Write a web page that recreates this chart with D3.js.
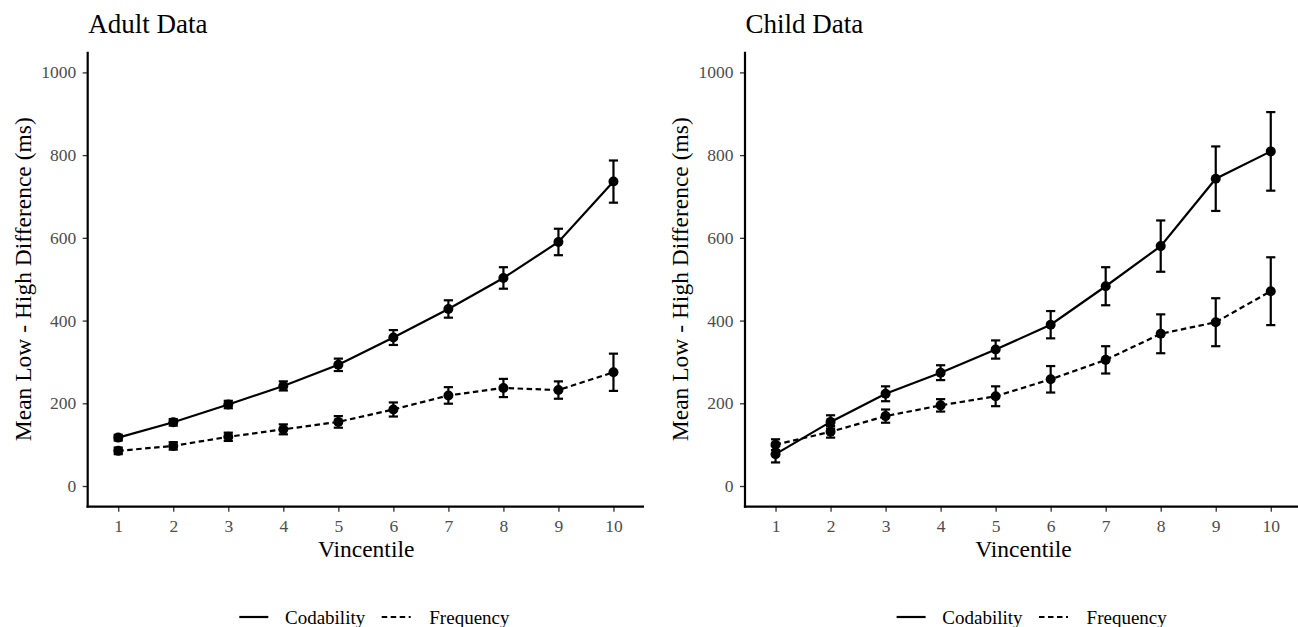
<!DOCTYPE html>
<html>
<head>
<meta charset="utf-8">
<script src="https://cdn.jsdelivr.net/npm/d3@7"></script>
<style>
  html, body { margin: 0; padding: 0; background: #fff; }
  svg { display: block; }
  text { font-family: "Liberation Serif", "Times New Roman", serif; }
</style>
</head>
<body>
<svg id="chart" width="1298" height="627"></svg>
<script>
// ---- data ----
const vincentiles = [1, 2, 3, 4, 5, 6, 7, 8, 9, 10];
const yTicks = [0, 200, 400, 600, 800, 1000];
const seriesNames = ["Codability", "Frequency"];
const panelTitles = ["Adult Data", "Child Data"];

const adultCodability    = [117, 154, 197, 242, 293, 359, 428, 503, 590, 736];
const adultCodabilityErr = [7, 8, 9, 11, 15, 18, 21, 26, 32, 51];
const adultFrequency     = [85, 97, 119, 137, 155, 185, 219, 237, 232, 275];
const adultFrequencyErr  = [8, 9, 10, 12, 14, 17, 20, 22, 21, 45];

const childCodability    = [77, 155, 223, 274, 330, 390, 483, 580, 743, 809];
const childCodabilityErr = [20, 16, 18, 18, 22, 33, 46, 62, 78, 95];
const childFrequency     = [100, 131, 169, 195, 217, 258, 305, 368, 396, 471];
const childFrequencyErr  = [13, 14, 16, 15, 24, 32, 33, 47, 58, 82];

// ---- build ----
function makeSeries(vals, errs) {
  return vincentiles.map((v, i) => ({ x: v, y: vals[i], e: errs[i] }));
}
const panels = [
  { title: panelTitles[0], x0: 87.7, series: [makeSeries(adultCodability, adultCodabilityErr), makeSeries(adultFrequency, adultFrequencyErr)] },
  { title: panelTitles[1], x0: 745,  series: [makeSeries(childCodability, childCodabilityErr), makeSeries(childFrequency, childFrequencyErr)] }
];

const svg = d3.select("#chart");
const plotTop = 51.7, plotBottom = 506.7, panelW = 556.3;
const dashes = [null, "5.5,3.5"];
const serif = '"Liberation Serif", "Times New Roman", serif';

panels.forEach(p => {
  const x = d3.scaleLinear().domain([0.445, 10.555]).range([p.x0, p.x0 + panelW]);
  const y = d3.scaleLinear().domain([-50, 1050]).range([plotBottom, plotTop]);
  const g = svg.append("g");

  // title
  g.append("text").attr("x", p.x0 + 0.6).attr("y", 33.3)
    .attr("font-size", 27).attr("fill", "#000").text(p.title);

  // axes
  const yAxis = g.append("g").attr("transform", `translate(${p.x0},0)`)
    .call(d3.axisLeft(y).tickValues(yTicks).tickFormat(d3.format("d"))
      .tickSize(5).tickPadding(6.5).tickSizeOuter(0));
  const xAxis = g.append("g").attr("transform", `translate(0,${plotBottom})`)
    .call(d3.axisBottom(x).tickValues(vincentiles).tickFormat(d3.format("d"))
      .tickSize(5).tickPadding(7.5).tickSizeOuter(0));
  [yAxis, xAxis].forEach(a => {
    a.attr("font-family", serif).attr("font-size", 17.5);
    a.select(".domain").remove();
    a.selectAll(".tick line").attr("stroke", "#333").attr("stroke-width", 1.3);
    a.selectAll(".tick text").attr("fill", "#4d4d4d")
      .style("font-size", "17.5px").style("font-family", serif);
  });
  g.append("line").attr("x1", p.x0).attr("x2", p.x0).attr("y1", plotTop).attr("y2", plotBottom + 1)
    .attr("stroke", "#000").attr("stroke-width", 2.2);
  g.append("line").attr("x1", p.x0 - 1.1).attr("x2", Math.min(p.x0 + panelW, 1298)).attr("y1", plotBottom).attr("y2", plotBottom)
    .attr("stroke", "#000").attr("stroke-width", 2.2);

  // axis titles
  g.append("text").attr("x", p.x0 + panelW / 2 + 0.3).attr("y", 556.7)
    .attr("text-anchor", "middle").attr("font-size", 23.5).attr("fill", "#000").text("Vincentile");
  g.append("text")
    .attr("transform", `translate(${p.x0 - 57},${(plotTop + plotBottom) / 2}) rotate(-90)`)
    .attr("text-anchor", "middle").attr("font-size", 23.5).attr("fill", "#000")
    .text("Mean Low - High Difference (ms)");

  // lines
  const line = d3.line().x(d => x(d.x)).y(d => y(d.y));
  p.series.forEach((s, si) => {
    g.append("path").datum(s).attr("d", line).attr("fill", "none")
      .attr("stroke", "#000").attr("stroke-width", 2.2)
      .attr("stroke-dasharray", dashes[si]);
  });
  // error bars
  p.series.forEach(s => {
    const eb = g.append("g").attr("stroke", "#000").attr("stroke-width", 2.2).attr("fill", "none");
    s.forEach(d => {
      const cx = x(d.x), y1 = y(d.y + d.e), y2 = y(d.y - d.e);
      eb.append("line").attr("x1", cx).attr("x2", cx).attr("y1", y1).attr("y2", y2);
      eb.append("line").attr("x1", cx - 4.6).attr("x2", cx + 4.6).attr("y1", y1).attr("y2", y1);
      eb.append("line").attr("x1", cx - 4.6).attr("x2", cx + 4.6).attr("y1", y2).attr("y2", y2);
    });
  });
  // points
  p.series.forEach(s => {
    g.append("g").selectAll("circle").data(s).join("circle")
      .attr("cx", d => x(d.x)).attr("cy", d => y(d.y)).attr("r", 5).attr("fill", "#000");
  });

  // legend
  const lg = g.append("g").attr("transform", `translate(${p.x0 + 151.6},617)`);
  const keyX = [0, 142.4];
  const textX = [45.7, 190];
  seriesNames.forEach((name, i) => {
    lg.append("line").attr("x1", keyX[i]).attr("x2", keyX[i] + 29).attr("y1", 0).attr("y2", 0)
      .attr("stroke", "#000").attr("stroke-width", 2.2).attr("stroke-dasharray", dashes[i]);
    lg.append("text").attr("x", textX[i]).attr("y", 6.5).attr("font-size", 19)
      .attr("fill", "#000").text(name);
  });
});
</script>
</body>
</html>
